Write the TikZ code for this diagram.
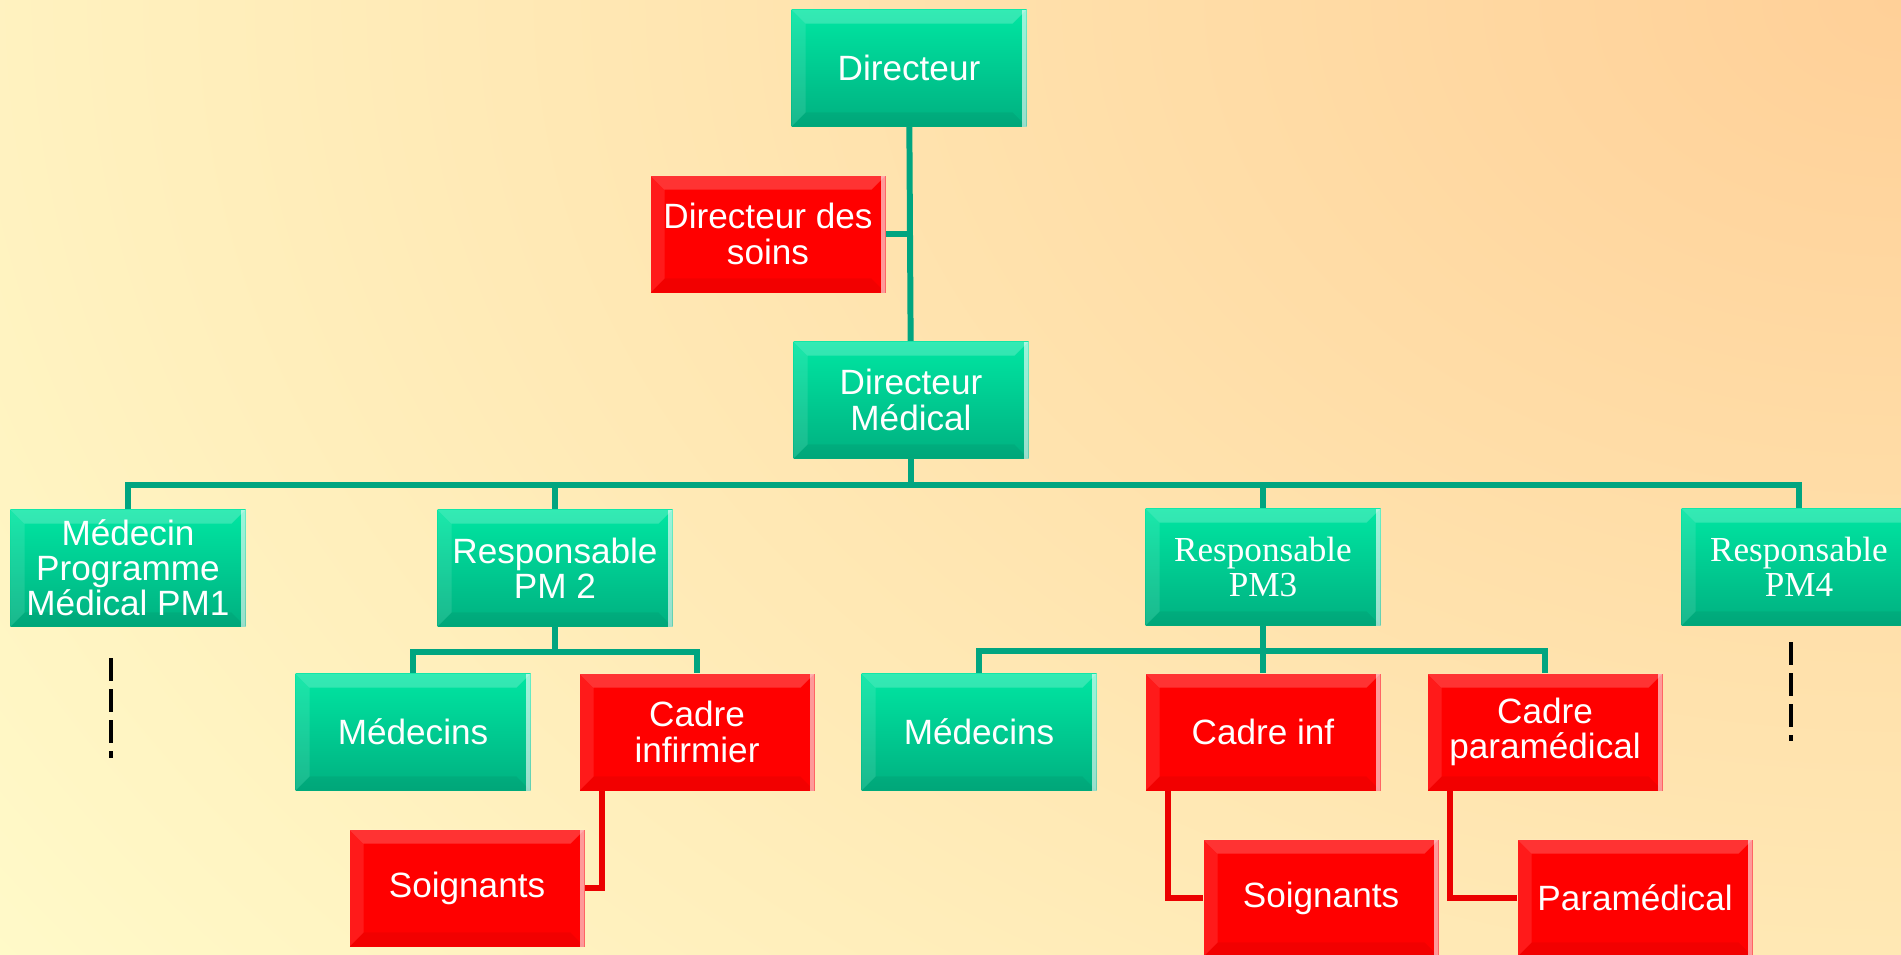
\documentclass[tikz,border=0pt]{standalone}
\usepackage{fontspec}
\setmainfont{Liberation Sans}
\newfontfamily\timesfont{Liberation Serif}
\usetikzlibrary{positioning,calc}

\definecolor{bgpale}{RGB}{255,251,202}
\definecolor{bgpeach}{RGB}{255,208,152}
\definecolor{gtop}{RGB}{0,230,162}
\definecolor{gbot}{RGB}{0,176,128}
\definecolor{linkgreen}{RGB}{0,165,128}
\definecolor{linkred}{RGB}{235,0,0}

\tikzset{
  bevel/.style={path picture={
    \fill[white, opacity=.2] (path picture bounding box.north west) -- (path picture bounding box.north east)
      -- ([shift={(-4pt,-4pt)}]path picture bounding box.north east) -- ([shift={(4pt,-4pt)}]path picture bounding box.north west) -- cycle;
    \fill[white, opacity=.1] (path picture bounding box.north west) -- ([shift={(4pt,-4pt)}]path picture bounding box.north west)
      -- ([shift={(4pt,4pt)}]path picture bounding box.south west) -- (path picture bounding box.south west) -- cycle;
    \fill[black, opacity=.05] (path picture bounding box.south west) -- (path picture bounding box.south east)
      -- ([shift={(-4pt,4pt)}]path picture bounding box.south east) -- ([shift={(4pt,4pt)}]path picture bounding box.south west) -- cycle;
    \fill[white, opacity=.6] ([xshift=-1.3pt]path picture bounding box.north east) rectangle (path picture bounding box.south east);
  }}
}

\begin{document}
\begin{tikzpicture}[x=1cm, y=-1cm,
  font=\fontsize{10}{10}\selectfont,
  box/.style={minimum width=2.35cm, minimum height=1.17cm, inner sep=0pt, align=center, text=white, bevel},
  gbox/.style={box, top color=gtop, bottom color=gbot},
  rbox/.style={box, fill=red},
  link/.style={line width=1.7pt, draw=linkgreen},
  rlink/.style={line width=1.7pt, draw=linkred},
  cont/.style={line width=0.9pt, dash pattern=on 0.23cm off 0.08cm}
]
\useasboundingbox (0,0) rectangle (19.01,9.55);
% background
\fill[bgpale] (0,0) rectangle (19.01,9.55);
\begin{scope}
  \clip (0,0) rectangle (19.01,9.55);
  \shade[inner color=bgpeach, outer color=bgpale] (19.01,0) ellipse (24cm and 17cm);
\end{scope}

% top
\node[gbox] (dir) at (9.09,0.68) {Directeur};
\node[rbox] (soins) at (7.68,2.34) {Directeur des\\soins};
\node[gbox] (dmed) at (9.11,4.00) {Directeur\\Médical};

% programmes
\node[gbox] (pm1) at (1.28,5.68) {Médecin\\Programme\\Médical PM1};
\node[gbox] (pm2) at (5.55,5.68) {Responsable\\PM 2};
\node[gbox, font=\fontsize{10}{10}\timesfont] (pm3) at (12.63,5.67) {Responsable\\PM3};
\node[gbox, font=\fontsize{10}{10}\timesfont] (pm4) at (17.99,5.67) {Responsable\\PM4};

% PM 2
\node[gbox] (med2) at (4.13,7.32) {Médecins};
\node[rbox] (cinf2) at (6.97,7.32) {Cadre\\infirmier};
\node[rbox] (soin2) at (4.67,8.88) {Soignants};

% PM3
\node[gbox] (med3) at (9.79,7.32) {Médecins};
\node[rbox] (cinf3) at (12.63,7.32) {Cadre inf};
\node[rbox] (cpar) at (15.45,7.32) {Cadre\\paramédical};
\node[rbox] (soin3) at (13.21,8.98) {Soignants};
\node[rbox] (para) at (16.35,8.98) {Paramédical};

% links
\draw[link] (dir) -- (dmed);
\draw[link] (soins.east) -- (soins.east -| dir.south);
\coordinate (bus) at (9.11,4.85);
\draw[link] (dmed) -- (bus);
\foreach \n in {pm1,pm2,pm3,pm4}
  \draw[link] (bus) -| (\n.north);
\draw[link] (pm2.south) -- ++(0,0.25) coordinate (b2);
\foreach \n in {med2,cinf2}
  \draw[link] (b2) -| (\n.north);
\draw[link] (pm3.south) -- ++(0,0.25) coordinate (b3);
\foreach \n in {med3,cinf3,cpar}
  \draw[link] (b3) -| (\n.north);
\draw[rlink] ([xshift=0.23cm]cinf2.south west) |- (soin2.east);
\draw[rlink] ([xshift=0.23cm]cinf3.south west) |- (soin3.west);
\draw[rlink] ([xshift=0.23cm]cpar.south west) |- (para.west);

% suite
\coordinate (s1) at (1.11,6.58);
\coordinate (s4) at (17.91,6.42);
\draw[cont] (s1) -- ++(0,1.0);
\draw[cont] (s4) -- ++(0,0.99);
\end{tikzpicture}
\end{document}
